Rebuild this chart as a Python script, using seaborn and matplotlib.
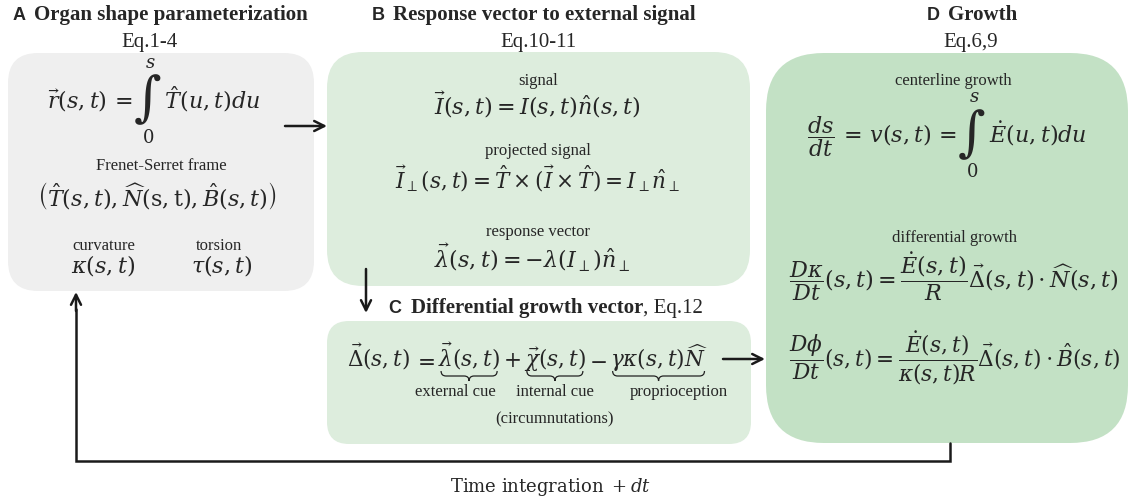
import numpy as np
import matplotlib
matplotlib.use('Agg')
import matplotlib.pyplot as plt
from matplotlib.patches import FancyBboxPatch, PathPatch
from matplotlib.path import Path
import seaborn as sns

sns.set_theme(style='white')
plt.rcParams['font.family'] = ['Liberation Serif', 'DejaVu Serif']
plt.rcParams['mathtext.fontset'] = 'dejavuserif'

# panel boxes: left, top, right, bottom, rounding, colour
box_names = ['A', 'B', 'C', 'D']
box_left = [8, 327, 327, 766]
box_top = [54, 53, 322, 54]
box_right = [314, 750, 751, 1128]
box_bottom = [292, 287, 445, 444]
box_round = [30, 36, 22, 58]
box_colors = ['#efefef', '#ddeddd', '#ddeddd', '#c3e1c5']

# headers
head_letters = ['A', 'B', 'D']
head_titles = ['Organ shape parameterization', 'Response vector to external signal', 'Growth']
head_x = [19, 378, 933]
head_eq = ['Eq.1-4', 'Eq.10-11', 'Eq.6,9']
head_eq_x = [149, 538, 971]

# small labels (text, x, baseline y)
labels = ['Frenet-Serret frame', 'curvature', 'torsion',
          'signal', 'projected signal', 'response vector',
          'centerline growth', 'differential growth']
label_x = [161, 104, 219, 538, 538, 538, 953, 954]
label_y = [170, 250, 250, 85, 155, 236, 85, 242]

# equations (text, x, baseline y)
equations = [r'$\left(\hat{T}(s,t),\widehat{N}(\mathrm{s,t}),\hat{B}(s,t)\right)$',
             r'$\kappa(s,t)$', r'$\tau(s,t)$',
             r'$\vec{I}(s,t) = I(s,t)\hat{n}(s,t)$',
             r'$\vec{I}_{\perp}(s,t) = \hat{T}\times\left(\vec{I}\times\hat{T}\right) = I_{\perp}\hat{n}_{\perp}$',
             r'$\vec{\lambda}(s,t) = -\lambda(I_{\perp})\hat{n}_{\perp}$']
eq_x = [157, 103, 222, 537, 538, 532]
eq_y = [206, 273, 273, 114, 188, 267]
eq_size = [16, 16, 16, 16, 15.5, 16]

# differential growth vector pieces and their brace labels
c_pieces = [r'$\vec{\Delta}(s,t)$', r'$=$', r'$\vec{\lambda}(s,t)$', r'$+$',
            r'$\vec{\chi}(s,t)$', r'$-$', r'$\gamma\kappa(s,t)\widehat{N}$']
c_braced = {2: ['external cue'], 4: ['internal cue', '(circumnutations)'], 6: ['proprioception']}
c_label_shift = {2: -14, 4: 0, 6: 20}

fig = plt.figure(figsize=(11.32, 5.02), dpi=100)
ax = fig.add_axes([0, 0, 1, 1])
ax.set_xlim(0, 1132)
ax.set_ylim(502, 0)
ax.axis('off')
rend = fig.canvas.get_renderer()

for l, t, r, b, rr, c in zip(box_left, box_top, box_right, box_bottom, box_round, box_colors):
    ax.add_patch(FancyBboxPatch((l, t), r - l, b - t,
                                boxstyle=f'round,pad=0,rounding_size={rr}',
                                fc=c, ec='none', zorder=0))


def row(pieces, x, y, ha='left', fs=16, pad=0):
    """lay out text pieces side by side; (text, size, ycenter) pieces are centred vertically"""
    items = []
    for p in pieces:
        if isinstance(p, tuple):
            t = ax.text(0, p[2], p[0], fontsize=p[1], va='center', ha='left')
        else:
            t = ax.text(0, y, p, fontsize=fs, va='baseline', ha='left')
        items.append((t, t.get_window_extent(rend).width))
    total = sum(w for _, w in items) + pad * (len(items) - 1)
    cx = x - total / 2 if ha == 'center' else x
    ext = []
    for t, w in items:
        t.set_x(cx)
        ext.append((cx, cx + w))
        cx += w + pad
    return ext


def integral_limits(ext, top, bottom):
    xm = (ext[0] + ext[1]) / 2 + 3
    ax.text(xm, top, r'$s$', fontsize=13, ha='center', va='center')
    ax.text(xm - 2, bottom, r'$0$', fontsize=13, ha='center', va='center')


def brace(x0, x1, y, h=10):
    xm = (x0 + x1) / 2
    verts, codes = [], []
    for xa, sg in [(x0, 1), (x1, -1)]:
        verts += [(xa, y), (xa, y + h / 2), (xa + sg * h / 2, y + h / 2),
                  (xm - sg * h / 2, y + h / 2), (xm, y + h / 2), (xm, y + h)]
        codes += [Path.MOVETO, Path.CURVE3, Path.CURVE3, Path.LINETO, Path.CURVE3, Path.CURVE3]
    ax.add_patch(PathPatch(Path(verts, codes), fill=False, lw=0.9, ec='#222222'))


# headers
for let, tit, hx, eq, ex in zip(head_letters, head_titles, head_x, head_eq, head_eq_x):
    ax.text(hx, 20, let, fontsize=13, fontweight='bold', family='Liberation Sans',
            ha='center', va='baseline')
    ax.text(hx + 15, 20, tit, fontsize=15, fontweight='bold', ha='left', va='baseline')
    ax.text(ex, 47, eq, fontsize=15, ha='center', va='baseline')

for s, x, y in zip(labels, label_x, label_y):
    ax.text(x, y, s, fontsize=12, ha='center', va='baseline')

for s, x, y, fs in zip(equations, eq_x, eq_y, eq_size):
    ax.text(x, y, s, fontsize=fs, ha='center', va='baseline')

# A: position vector integral
ext = row([r'$\vec{r}(s,t)\,=\,$', (r'$\int$', 27, 100), r'$\,\hat{T}(u,t)du$'], 47, 108)
integral_limits(ext[1], 63, 138)

# D: centerline growth
ext = row([r'$\dfrac{ds}{dt}\,=\,v(s,t)\,=\,$', (r'$\int$', 27, 135), r'$\,\dot{E}(u,t)du$'], 807, 143)
integral_limits(ext[1], 98, 172)

# D: differential growth
ax.text(789, 288, r'$\dfrac{D\kappa}{Dt}(s,t) = \dfrac{\dot{E}(s,t)}{R}\vec{\Delta}(s,t)\cdot\widehat{N}(s,t)$',
        fontsize=16, ha='left', va='baseline')
ax.text(789, 366, r'$\dfrac{D\phi}{Dt}(s,t) = \dfrac{\dot{E}(s,t)}{\kappa(s,t)R}\vec{\Delta}(s,t)\cdot\hat{B}(s,t)$',
        fontsize=15.6, ha='left', va='baseline')

# C: header and equation with braces
ax.text(395, 313, 'C', fontsize=13, fontweight='bold', family='Liberation Sans',
        ha='center', va='baseline')
t = ax.text(411, 313, 'Differential growth vector', fontsize=15, fontweight='bold',
            ha='left', va='baseline')
w = t.get_window_extent(rend).width
ax.text(411 + w, 313, ', Eq.12', fontsize=15, ha='left', va='baseline')

ext = row(c_pieces, 347, 367, fs=15.5, pad=3)
for i, labs in c_braced.items():
    x0, x1 = ext[i]
    brace(x0 + 3, x1 - 3, 372)
    for k, lab in enumerate(labs):
        ax.text((x0 + x1) / 2 + c_label_shift[i], 396 + 27 * k, lab, fontsize=12,
                ha='center', va='baseline')

# arrows
arr = dict(arrowstyle='->', lw=1.8, color='k', mutation_scale=18, shrinkA=0, shrinkB=0)
ax.annotate('', xy=(327, 127), xytext=(285, 127), arrowprops=arr)
ax.annotate('', xy=(366, 314), xytext=(366, 270), arrowprops=arr)
ax.annotate('', xy=(765, 360), xytext=(723, 360), arrowprops=arr)

ax.plot([950, 950, 76, 76], [444, 462, 462, 310], color='k', lw=1.8, solid_joinstyle='miter')
ax.annotate('', xy=(76, 293), xytext=(76, 312), arrowprops=arr)

ax.text(551, 492, r'$\mathrm{Time\ integration}\ + dt$', fontsize=13, ha='center', va='baseline')

fig.savefig('out.png', dpi=100)
